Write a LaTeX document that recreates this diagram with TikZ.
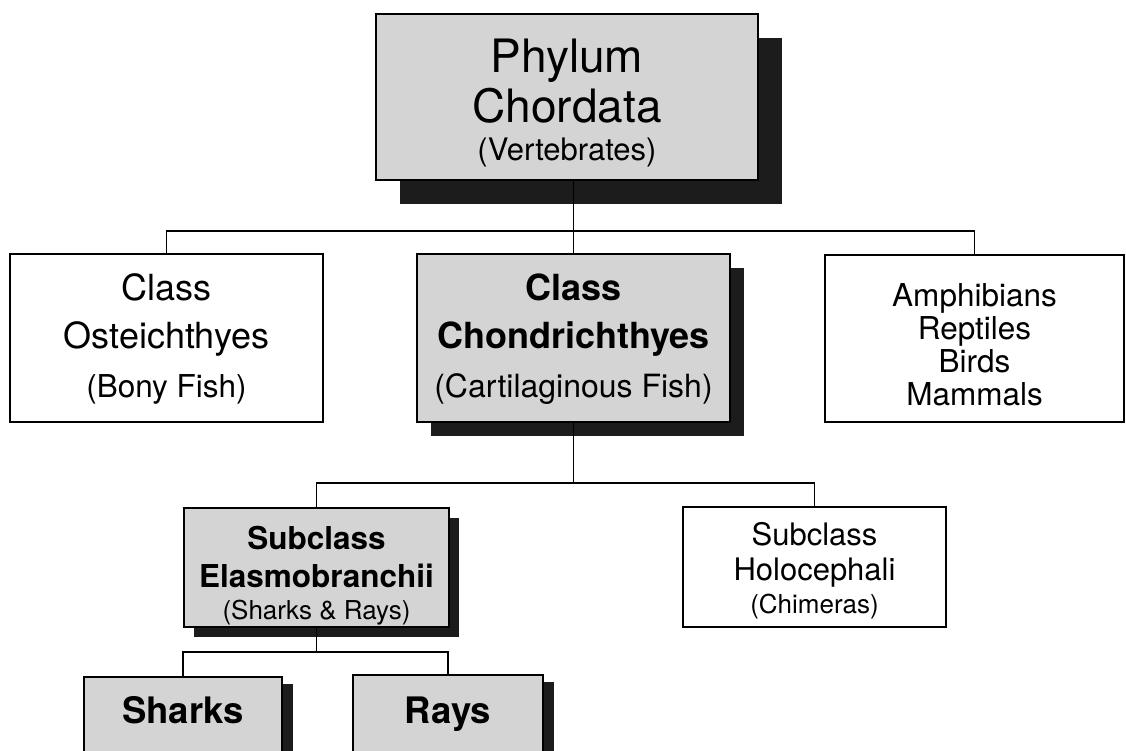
\documentclass[tikz,border=0pt]{standalone}
\usepackage{fontspec}
\setmainfont{TeX Gyre Heros}
\usetikzlibrary{shadows}
\definecolor{boxgray}{RGB}{212,212,212}
\definecolor{shadowc}{RGB}{28,28,28}
\begin{document}
\begin{tikzpicture}[x=1pt,y=-1pt,
  box/.style={draw=black, line width=1.8pt, rectangle, inner sep=0pt, outer sep=0pt, align=center, fill=white},
  graybox/.style={box, fill=boxgray},
  shad/.style 2 args={drop shadow={shadow xshift=#1pt, shadow yshift=-#2pt, fill=shadowc, opacity=1}},
  conn/.style={draw=black, line width=1.7pt}]
\useasboundingbox (0,0) rectangle (1126,750);

\node[graybox, shad={24}{24}, minimum width=382pt, minimum height=166pt,
  font=\fontsize{46}{50}\selectfont] (phylum) at (567,97)
  {\rule{0pt}{45pt}Phylum\\Chordata\\[-12pt]{\fontsize{31}{31}\selectfont (Vertebrates)\rule[-7pt]{0pt}{7pt}}};

\node[box, minimum width=313pt, minimum height=168pt,
  font=\fontsize{36}{48}\selectfont] (oste) at (166.5,338)
  {\rule{0pt}{30pt}Class\\Osteichthyes\\[1pt]{\fontsize{31.5}{31.5}\selectfont (Bony Fish)\rule[-9pt]{0pt}{9pt}}};

\node[graybox, shad={14}{14}, minimum width=313pt, minimum height=168pt,
  font=\fontsize{36}{48}\selectfont\bfseries] (chond) at (573.5,338)
  {\rule{0pt}{30pt}Class\\Chondrichthyes\\[1pt]{\mdseries\fontsize{32}{32}\selectfont (Cartilaginous Fish)\rule[-9pt]{0pt}{9pt}}};

\node[box, minimum width=299pt, minimum height=167pt,
  font=\fontsize{31.5}{33}\selectfont] (amph) at (974.5,338.5)
  {\rule{0pt}{40pt}Amphibians\\Reptiles\\Birds\\Mammals\rule[-5pt]{0pt}{5pt}};

\node[graybox, shad={10}{10}, minimum width=265pt, minimum height=119pt,
  font=\fontsize{31.5}{38}\selectfont\bfseries] (elasmo) at (316.5,567.5)
  {\rule{0pt}{39pt}Subclass\\Elasmobranchii\\[-6pt]{\mdseries\fontsize{26}{26}\selectfont (Sharks \& Rays)\rule[-6pt]{0pt}{6pt}}};

\node[box, minimum width=263pt, minimum height=120pt,
  font=\fontsize{31}{35}\selectfont] (holo) at (814.5,567)
  {\rule{0pt}{30pt}Subclass\\Holocephali\\[-2pt]{\fontsize{26}{26}\selectfont (Chimeras)\rule[-6pt]{0pt}{6pt}}};

\node[graybox, shad={11}{7}, minimum width=198pt, minimum height=113pt,
  font=\fontsize{36.5}{36.5}\selectfont\bfseries] (sharks) at (183,733.5)
  {\rule{0pt}{26pt}Sharks\rule[-47pt]{0pt}{47pt}};

\node[graybox, shad={11}{7}, minimum width=190pt, minimum height=115pt,
  font=\fontsize{36.5}{36.5}\selectfont\bfseries] (rays) at (448,732.5)
  {\rule{0pt}{26pt}Rays\rule[-45pt]{0pt}{45pt}};

\coordinate (busA) at (0,231);
\coordinate (busB) at (0,483);
\coordinate (busC) at (0,652);

\draw[conn] (chond.north |- phylum.south) -- (chond.north);
\draw[conn] (oste.north) -- (oste.north |- busA) -| (amph.north);

\draw[conn] (chond.south) -- (chond.south |- busB);
\draw[conn] (elasmo.north) -- (elasmo.north |- busB) -| (holo.north);

\draw[conn] (elasmo.south) -- (elasmo.south |- busC);
\draw[conn] (sharks.north) -- (sharks.north |- busC) -| (rays.north);
\end{tikzpicture}
\end{document}
